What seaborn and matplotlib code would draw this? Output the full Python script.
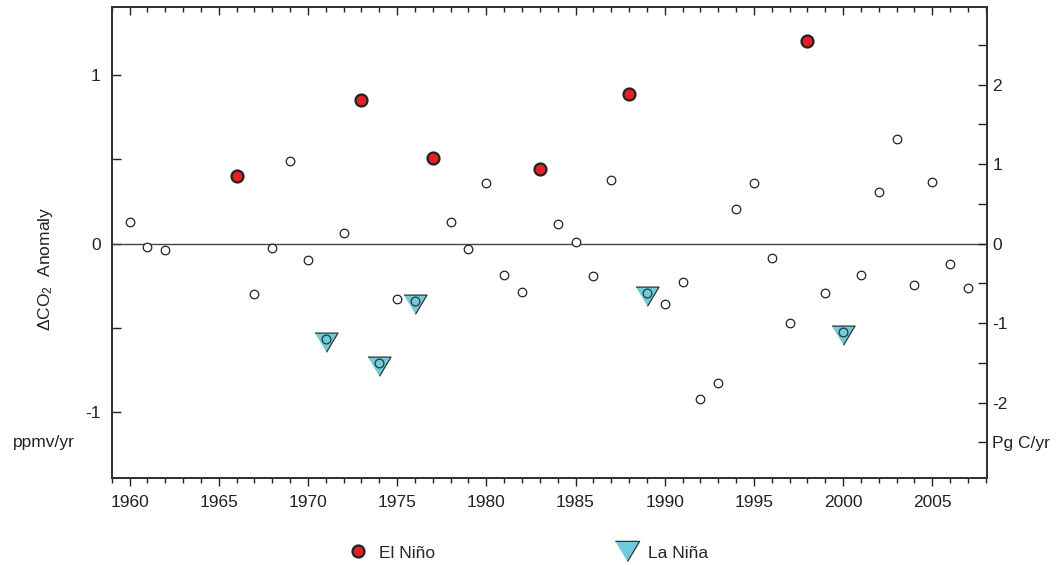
import pandas as pd
import matplotlib
matplotlib.use("Agg")
import matplotlib.pyplot as plt
from matplotlib.lines import Line2D
from matplotlib.ticker import MultipleLocator
import seaborn as sns

sns.set_style("ticks")
plt.rcParams["font.family"] = ["Liberation Sans", "DejaVu Sans"]
plt.rcParams["mathtext.fontset"] = "custom"
plt.rcParams["mathtext.rm"] = "Liberation Sans"
plt.rcParams["mathtext.it"] = "Liberation Sans:italic"
plt.rcParams["axes.unicode_minus"] = False

# annual CO2 growth-rate anomaly (ppmv/yr), no values 1963-1965
years = [1960, 1961, 1962,
         1966, 1967, 1968, 1969, 1970, 1971, 1972, 1973, 1974, 1975,
         1976, 1977, 1978, 1979, 1980, 1981, 1982, 1983, 1984, 1985,
         1986, 1987, 1988, 1989, 1990, 1991, 1992, 1993, 1994, 1995,
         1996, 1997, 1998, 1999, 2000, 2001, 2002, 2003, 2004, 2005,
         2006, 2007]
anomaly = [0.13, -0.02, -0.036,
           0.40, -0.30, -0.028, 0.49, -0.095, -0.566, 0.061, 0.853, -0.71, -0.326,
           -0.342, 0.506, 0.13, -0.03, 0.362, -0.186, -0.285, 0.441, 0.116, 0.008,
           -0.19, 0.38, 0.888, -0.293, -0.36, -0.23, -0.92, -0.829, 0.204, 0.362,
           -0.087, -0.471, 1.203, -0.295, -0.522, -0.188, 0.305, 0.623, -0.243, 0.364,
           -0.119, -0.263]
el_nino_years = [1966, 1973, 1977, 1983, 1988, 1998]
la_nina_years = [1971, 1974, 1976, 1989, 2000]

# ppmv -> Pg C
ppmv_to_pgc = 2.12

red = "#e41f26"
cyan = "#6ecbdb"
dark = "#222222"
fs = 12.5

df = pd.DataFrame({"Year": years, "anomaly": anomaly})
en = df[df["Year"].isin(el_nino_years)]
ln = df[df["Year"].isin(la_nina_years)]

# down triangle, centroid at the origin, a bit wider than tall
tri = [(-0.9, 0.5), (0.9, 0.5), (0.0, -1.0)]
# same triangle centred on its box, for the legend
tri_leg = [(-0.9, 0.75), (0.9, 0.75), (0.0, -0.75)]

fig = plt.figure(figsize=(10.57, 5.65), dpi=100)
ax = fig.add_axes([111.7 / 1057, 1 - 478.3 / 565, 875 / 1057, 471.6 / 565])

ax.axhline(0, color="#444444", lw=1.0, zorder=1)

sns.scatterplot(data=df, x="Year", y="anomaly", ax=ax, s=38, color="white",
                edgecolor=dark, linewidth=0.9, zorder=3)
sns.scatterplot(data=en, x="Year", y="anomaly", ax=ax, s=74, color=red,
                edgecolor=dark, linewidth=1.6, zorder=4)
sns.scatterplot(data=ln, x="Year", y="anomaly", ax=ax, s=340, marker=tri,
                color=cyan, edgecolor="#333333", linewidth=0.9, zorder=4)
sns.scatterplot(data=ln, x="Year", y="anomaly", ax=ax, s=40, color=cyan,
                edgecolor="#333333", linewidth=0.9, zorder=5)

if ax.get_legend() is not None:
    ax.get_legend().remove()

ax.set_xlim(1959, 2008.05)
ax.set_ylim(-1.392, 1.406)
ax.set_xlabel("")
ax.set_ylabel("")

# x axis: ticks out at the bottom
ax.set_xticks(list(range(1960, 2010, 5)))
ax.xaxis.set_minor_locator(MultipleLocator(1))
ax.tick_params(axis="x", which="major", direction="out", length=6, width=1,
               pad=6, labelsize=fs, colors=dark)
ax.tick_params(axis="x", which="minor", direction="out", length=3.5, width=1,
               colors=dark)

# ticks in at the top
top = ax.secondary_xaxis("top")
top.set_xticks(list(range(1960, 2010, 5)))
top.xaxis.set_minor_locator(MultipleLocator(1))
top.tick_params(axis="x", which="major", direction="in", length=6, width=1,
                labeltop=False, colors=dark)
top.tick_params(axis="x", which="minor", direction="in", length=3.5, width=1,
                colors=dark)
top.spines["top"].set_linewidth(1.4)
top.spines["top"].set_color("#333333")

# left axis, ppmv/yr
ax.set_yticks([-1, -0.5, 0, 0.5, 1], labels=["-1", "", "0", "", "1"])
ax.tick_params(axis="y", direction="in", length=6.5, width=1, pad=8,
               labelsize=fs, colors=dark)

# right axis, Pg C/yr
ax2 = ax.twinx()
lo, hi = ax.get_ylim()
ax2.set_ylim(lo * ppmv_to_pgc, hi * ppmv_to_pgc)
ax2.set_yticks([-2.5, -2, -1.5, -1, -0.5, 0, 0.5, 1, 1.5, 2, 2.5],
               labels=["Pg C/yr", "-2", "", "-1", "", "0", "", "1", "", "2", ""])
ax2.tick_params(axis="y", direction="in", length=6.5, width=1, pad=4,
                labelsize=fs, colors=dark)

for a in (ax, ax2):
    for sp in a.spines.values():
        sp.set_linewidth(1.4)
        sp.set_color("#333333")

ax.text(13 / 875 - 111.7 / 875, -1.18, "ppmv/yr", transform=ax.get_yaxis_transform(),
        ha="left", va="center", fontsize=fs, color=dark)

fig.text(45.5 / 1057, 1 - 269 / 565, "ΔCO$_2$  Anomaly", rotation=90,
         ha="center", va="center", fontsize=fs, color=dark)

# legend below the axes, one entry each
h_en = Line2D([], [], ls="none", marker="o", markersize=8.6, markerfacecolor=red,
              markeredgecolor=dark, markeredgewidth=1.6)
h_ln = Line2D([], [], ls="none", marker=tri_leg, markersize=17.5,
              markerfacecolor=cyan, markeredgecolor="#333333", markeredgewidth=0.9)
legend_y = 1 - 553 / 565
for h, lab, x0 in zip([h_en, h_ln], ["El Niño", "La Niña"], [347.6, 616.6]):
    fig.legend([h], [lab], loc="center left", bbox_to_anchor=(x0 / 1057, legend_y),
               frameon=False, fontsize=fs, handlelength=1.2, handletextpad=0.6,
               borderpad=0, borderaxespad=0, numpoints=1)

fig.savefig("out.png", dpi=100)
